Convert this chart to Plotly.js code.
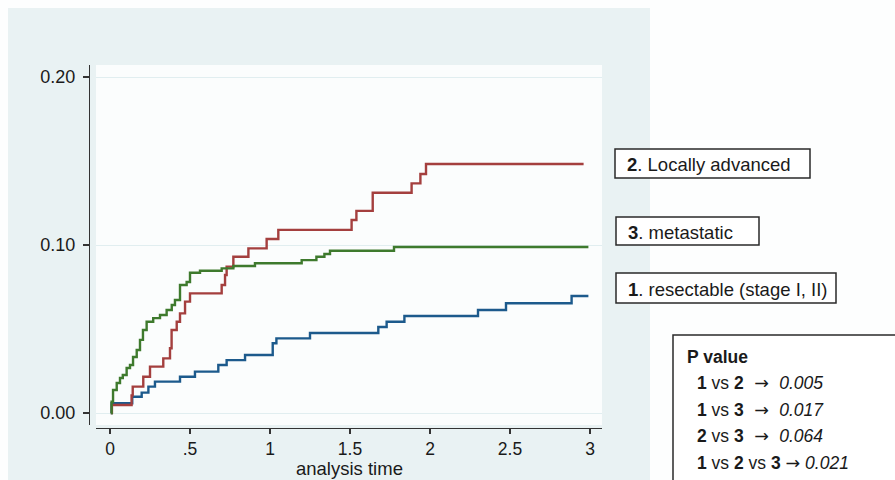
<!DOCTYPE html>
<html>
<head>
<meta charset="utf-8">
<script src="https://cdn.plot.ly/plotly-3.0.1.min.js"></script>
<style>
html,body{margin:0;padding:0;background:#ffffff;}
#chart{width:895px;height:480px;}
</style>
</head>
<body>
<div id="chart"></div>
<script>
// ---- Data ----
// 1. resectable (stage I, II)
const timeResectable = [0.005, 0.01, 0.139, 0.198, 0.24, 0.281, 0.4375, 0.531, 0.677, 0.729, 0.844, 1.017, 1.04, 1.25, 1.677, 1.729, 1.84, 2.30, 2.475, 2.885, 2.99];
const incResectable  = [0, 0.0058, 0.0097, 0.0121, 0.0157, 0.0187, 0.0216, 0.0246, 0.0286, 0.0315, 0.0345, 0.0415, 0.0444, 0.0476, 0.0512, 0.0543, 0.0577, 0.0613, 0.0653, 0.0696, 0.0696];
// 2. Locally advanced
const timeLocal = [0.005, 0.012, 0.135, 0.142, 0.208, 0.25, 0.333, 0.375, 0.385, 0.417, 0.4375, 0.469, 0.5, 0.698, 0.719, 0.729, 0.771, 0.865, 0.979, 1.052, 1.51, 1.54, 1.642, 1.885, 1.94, 1.975, 2.96];
const incLocal  = [0, 0.0048, 0.0105, 0.0157, 0.0216, 0.0276, 0.0325, 0.0385, 0.0494, 0.0543, 0.0593, 0.0663, 0.0712, 0.0762, 0.0821, 0.0871, 0.093, 0.098, 0.1036, 0.109, 0.1149, 0.1203, 0.1311, 0.1367, 0.1423, 0.1482, 0.1482];
// 3. metastatic
const timeMeta = [0.005, 0.01, 0.019, 0.042, 0.0625, 0.08, 0.104, 0.125, 0.144, 0.167, 0.1875, 0.206, 0.229, 0.27, 0.3125, 0.354, 0.386, 0.406, 0.4375, 0.479, 0.5, 0.5625, 0.698, 0.771, 0.906, 1.198, 1.29, 1.34, 1.375, 1.775, 2.99];
const incMeta  = [0, 0.0067, 0.0137, 0.0179, 0.0208, 0.0226, 0.0268, 0.0286, 0.0333, 0.0375, 0.0435, 0.0494, 0.0543, 0.0565, 0.0583, 0.0613, 0.0643, 0.0673, 0.0762, 0.078, 0.0835, 0.0847, 0.0861, 0.0875, 0.0891, 0.091, 0.093, 0.0946, 0.0966, 0.0988, 0.0988];

const xTickVals = [0, 0.5, 1, 1.5, 2, 2.5, 3];
const xTickText = ['0', '.5', '1', '1.5', '2', '2.5', '3'];
const yTickVals = [0, 0.1, 0.2];
const yTickText = ['0.00', '0.10', '0.20'];
const xTitle = 'analysis time';

const groupLabels = ['<b>1</b>. resectable (stage I, II)', '<b>2</b>. Locally advanced', '<b>3</b>. metastatic'];
const pTitle = '<b>P value</b>';
const pComparisons = ['<b>1</b> vs <b>2</b>', '<b>1</b> vs <b>3</b>', '<b>2</b> vs <b>3</b>', '<b>1</b> vs <b>2</b> vs <b>3</b>'];
const pValues = ['0.005', '0.017', '0.064', '0.021'];

// ---- Layout helpers (pixel -> paper) ----
const W = 895, H = 480;
const px = v => v / W;
const py = v => 1 - v / H;

const FONT = 'Liberation Sans, Arial, sans-serif';
const TXT = '#1a1a1a';
const colors = {res: '#1c5a8c', loc: '#a43f3e', met: '#3e7a2d'};

function stepTrace(x, y, color) {
  return {x: x, y: y, type: 'scatter', mode: 'lines',
    line: {shape: 'hv', color: color, width: 2.4}, hoverinfo: 'skip', showlegend: false};
}
const data = [
  stepTrace(timeResectable, incResectable, colors.res),
  stepTrace(timeLocal, incLocal, colors.loc),
  stepTrace(timeMeta, incMeta, colors.met)
];

const plotL = 96, plotR = 602, plotT = 65, plotB = 425;

const shapes = [
  // graph region (light blue-gray)
  {type: 'rect', xref: 'paper', yref: 'paper', x0: px(8), x1: px(650), y0: py(8), y1: py(482),
   fillcolor: '#e9f2f3', line: {width: 0}, layer: 'below'},
  // plot region (white)
  {type: 'rect', xref: 'paper', yref: 'paper', x0: px(plotL), x1: px(plotR), y0: py(plotT), y1: py(plotB),
   fillcolor: '#fbfdfd', line: {width: 0}, layer: 'below'},
];
const annotations = [];

// x-axis title
annotations.push({xref: 'paper', yref: 'paper', x: px(349), y: py(468), xanchor: 'center', yanchor: 'middle',
  text: xTitle, showarrow: false, font: {family: FONT, size: 18.5, color: TXT}});

// group label boxes
const boxes = [
  {x0: 615, x1: 810, y0: 149, y1: 178, label: groupLabels[1]},
  {x0: 616, x1: 759, y0: 217, y1: 245, label: groupLabels[2]},
  {x0: 616, x1: 836, y0: 273, y1: 303, label: groupLabels[0]}
];
boxes.forEach(b => {
  shapes.push({type: 'rect', xref: 'paper', yref: 'paper', x0: px(b.x0), x1: px(b.x1), y0: py(b.y0), y1: py(b.y1),
    fillcolor: '#ffffff', line: {color: '#2a2a2a', width: 1.5}, layer: 'above'});
  annotations.push({xref: 'paper', yref: 'paper', x: px(b.x0 + 10), y: py((b.y0 + b.y1) / 2 + 1),
    xanchor: 'left', yanchor: 'middle', text: b.label, showarrow: false,
    font: {family: FONT, size: 18.5, color: TXT}});
});

// P value box
shapes.push({type: 'rect', xref: 'paper', yref: 'paper', x0: px(673), x1: px(905), y0: py(335), y1: py(490),
  fillcolor: '#ffffff', line: {color: '#2a2a2a', width: 1.5}, layer: 'above'});
annotations.push({xref: 'paper', yref: 'paper', x: px(685), y: py(357), xanchor: 'left', yanchor: 'middle',
  text: pTitle, showarrow: false, font: {family: FONT, size: 17.5, color: TXT}});
const pRowY = [383, 410, 436, 463];
const arrowWide = '<span style="font-family:DejaVu Sans">\u00a0\u2192\u00a0</span>';
const arrowTight = '<span style="font-family:DejaVu Sans">\u2192</span>';
pComparisons.forEach((c, i) => {
  annotations.push({xref: 'paper', yref: 'paper', x: px(695), y: py(pRowY[i]), xanchor: 'left', yanchor: 'middle',
    text: c + (i < 3 ? ' ' + arrowWide + ' ' : ' ' + arrowTight + ' ') + '<i>' + pValues[i] + '</i>', showarrow: false,
    font: {family: FONT, size: 17.5, color: TXT}});
});

const layout = {
  width: W, height: H,
  margin: {l: 0, r: 0, t: 0, b: 0},
  paper_bgcolor: '#fdfefe',
  plot_bgcolor: 'rgba(0,0,0,0)',
  showlegend: false,
  xaxis: {
    domain: [px(plotL), px(plotR)],
    range: [(plotL - 110) / 160, (plotR - 110) / 160],
    anchor: 'free', position: py(428),
    tickvals: xTickVals, ticktext: xTickText,
    ticks: 'outside', ticklen: 5, tickwidth: 1.2, tickcolor: '#333',
    showline: true, linecolor: '#333', linewidth: 1.2,
    showgrid: false, zeroline: false,
    tickfont: {family: FONT, size: 17.5, color: TXT}
  },
  yaxis: {
    domain: [py(plotB), py(plotT)],
    range: [(413 - plotB) / 1680, (413 - plotT) / 1680],
    anchor: 'free', position: px(89),
    tickvals: yTickVals, ticktext: yTickText,
    ticks: 'outside', ticklen: 6, tickwidth: 1.2, tickcolor: '#333',
    showline: true, linecolor: '#333', linewidth: 1.2,
    showgrid: true, gridcolor: '#e1eef0', gridwidth: 1, zeroline: false,
    tickfont: {family: FONT, size: 18, color: TXT}, ticklabelstandoff: 4
  },
  shapes: shapes,
  annotations: annotations
};

Plotly.newPlot('chart', data, layout, {staticPlot: true, displayModeBar: false});
</script>
</body>
</html>
